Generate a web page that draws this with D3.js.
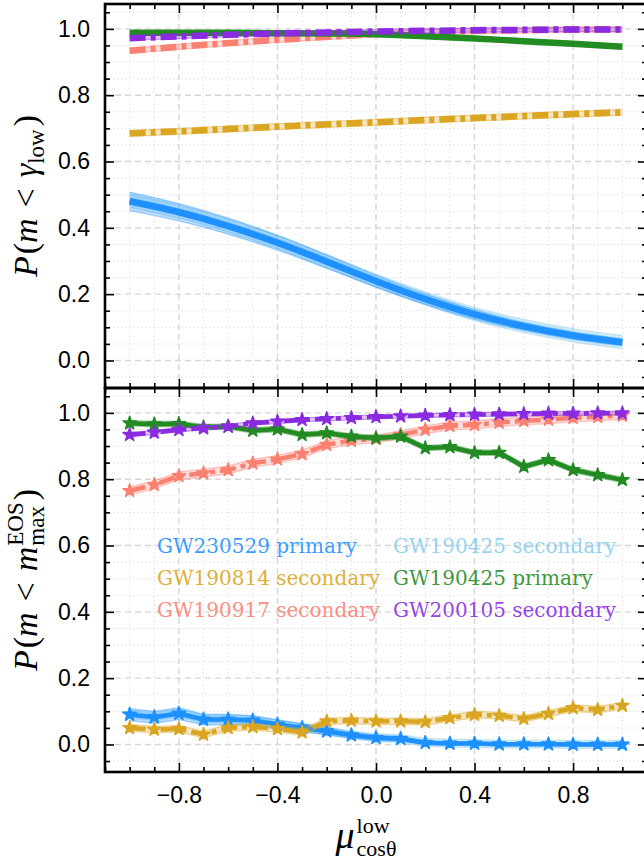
<!DOCTYPE html>
<html>
<head>
<meta charset="utf-8">
<script src="https://cdn.jsdelivr.net/npm/d3@7"></script>
<style>
  body { margin: 0; background: #fff; }
  svg { display: block; }
</style>
</head>
<body>
<div id="chart"></div>
<script>
// sample points along mu_cos(theta)^low
const xTop = [-1.0, -0.8, -0.6, -0.4, -0.2, 0.0, 0.2, 0.4, 0.6, 0.8, 1.0];
const xBottom = [-1.0, -0.9, -0.8, -0.7, -0.6, -0.5, -0.4, -0.3, -0.2, -0.1, 0.0,
                 0.1, 0.2, 0.3, 0.4, 0.5, 0.6, 0.7, 0.8, 0.9, 1.0];

// series (legend is filled column by column)
const names = ["GW230529 primary", "GW190814 secondary", "GW190917 secondary",
               "GW190425 secondary", "GW190425 primary", "GW200105 secondary"];
const colors = ["#1e90ff", "#daa520", "#fa8072", "#87ceeb", "#228b22", "#8a2be2"];
const dashDot = [false, true, true, false, false, true];
// GW190425 secondary sits right under GW230529 primary, so draw it first
const drawOrder = [3, 0, 1, 2, 4, 5];

// top panel: P(m < gamma_low)
const topGW230529p = [0.480, 0.447, 0.405, 0.355, 0.298, 0.239, 0.185, 0.139, 0.103, 0.075, 0.055];
const topGW190814s = [0.685, 0.691, 0.698, 0.705, 0.712, 0.718, 0.725, 0.731, 0.737, 0.743, 0.748];
const topGW190917s = [0.934, 0.946, 0.957, 0.967, 0.976, 0.984, 0.990, 0.994, 0.996, 0.998, 0.999];
const topGW190425s = [0.482, 0.449, 0.407, 0.357, 0.300, 0.241, 0.187, 0.140, 0.104, 0.076, 0.056];
const topGW190425p = [0.988, 0.988, 0.988, 0.987, 0.986, 0.984, 0.978, 0.971, 0.963, 0.955, 0.946];
const topGW200105s = [0.972, 0.977, 0.982, 0.986, 0.989, 0.992, 0.994, 0.996, 0.997, 0.998, 0.998];
// half widths of the shaded bands
const topErrGW230529p = [0.028, 0.026, 0.024, 0.022, 0.020, 0.018, 0.016, 0.014, 0.012, 0.011, 0.010];
const topErr = [null, 0.009, 0.008, 0.020, 0.006, 0.006];

// bottom panel: P(m < m_max^EOS)
const botGW230529p = [0.090, 0.082, 0.093, 0.075, 0.075, 0.072, 0.060, 0.050, 0.040, 0.028, 0.020,
                      0.017, 0.005, 0.003, 0.003, 0.001, 0.001, 0.001, 0.000, 0.000, 0.000];
const botGW190814s = [0.050, 0.045, 0.047, 0.030, 0.050, 0.053, 0.047, 0.037, 0.070, 0.072, 0.070,
                      0.070, 0.068, 0.080, 0.090, 0.087, 0.078, 0.093, 0.110, 0.105, 0.117];
const botGW190917s = [0.765, 0.783, 0.810, 0.818, 0.828, 0.848, 0.860, 0.876, 0.904, 0.916, 0.922,
                      0.934, 0.949, 0.961, 0.964, 0.971, 0.976, 0.980, 0.985, 0.988, 0.992];
const botGW190425s = [0.092, 0.084, 0.095, 0.077, 0.077, 0.074, 0.062, 0.052, 0.041, 0.029, 0.021,
                      0.018, 0.006, 0.004, 0.003, 0.001, 0.001, 0.001, 0.000, 0.000, 0.000];
const botGW190425p = [0.969, 0.966, 0.967, 0.957, 0.959, 0.947, 0.951, 0.934, 0.939, 0.929, 0.924,
                      0.929, 0.894, 0.897, 0.880, 0.880, 0.838, 0.858, 0.828, 0.813, 0.798];
const botGW200105s = [0.934, 0.941, 0.949, 0.954, 0.959, 0.969, 0.974, 0.979, 0.982, 0.985, 0.988,
                      0.990, 0.992, 0.994, 0.995, 0.996, 0.997, 0.998, 0.998, 0.999, 0.999];
const botErrGW230529p = [0.018, 0.018, 0.018, 0.016, 0.016, 0.015, 0.014, 0.012, 0.011, 0.009, 0.008,
                         0.007, 0.005, 0.004, 0.004, 0.003, 0.003, 0.003, 0.003, 0.003, 0.003];
const botErr = [null, 0.010, 0.012, 0.012, 0.008, 0.006];

const xMajor = [-0.8, -0.4, 0.0, 0.4, 0.8];
const yMajor = [0.0, 0.2, 0.4, 0.6, 0.8, 1.0];

const W = 644, H = 865;
const left = 105, right = 647;
const panels = [{ top: 4, bottom: 388 }, { top: 388, bottom: 772 }];
const tickFont = "'Liberation Serif', 'Times New Roman', serif";
const legendFont = "'DejaVu Serif', serif";

const svg = d3.select("#chart").append("svg").attr("width", W).attr("height", H);

const x = d3.scaleLinear().domain([-1.1, 1.1]).range([left, right]);

const xMinor = d3.range(-11, 12).map(i => i / 10).filter(v => !xMajor.some(m => Math.abs(m - v) < 1e-9));
const yMinor = d3.range(-1, 22).map(i => i / 20).filter(v => !yMajor.some(m => Math.abs(m - v) < 1e-9));

function build(sets, errs, errMain, xs) {
  return sets.map((vals, k) => vals.map((v, i) => ({
    x: xs[i], y: v, e: k === 0 ? errMain[i] : errs[k]
  })));
}

const topSeries = build([topGW230529p, topGW190814s, topGW190917s, topGW190425s, topGW190425p, topGW200105s],
                        topErr, topErrGW230529p, xTop);
const botSeries = build([botGW230529p, botGW190814s, botGW190917s, botGW190425s, botGW190425p, botGW200105s],
                        botErr, botErrGW230529p, xBottom);

function drawPanel(p, series, smooth, markers, showXLabels) {
  const y = d3.scaleLinear().domain([-0.083, 1.075]).range([p.bottom, p.top]);
  const g = svg.append("g");
  const clipId = "clip" + p.top;
  svg.append("clipPath").attr("id", clipId)
    .append("rect").attr("x", left).attr("y", p.top).attr("width", right - left).attr("height", p.bottom - p.top);

  // grid
  const grid = g.append("g");
  grid.selectAll("line.xmin").data(xMinor).join("line")
    .attr("x1", d => x(d)).attr("x2", d => x(d)).attr("y1", p.top).attr("y2", p.bottom)
    .attr("stroke", "#e0e0e0").attr("stroke-width", 1).attr("stroke-dasharray", "1.5,2.5");
  grid.selectAll("line.ymin").data(yMinor).join("line")
    .attr("y1", d => y(d)).attr("y2", d => y(d)).attr("x1", left).attr("x2", right)
    .attr("stroke", "#e0e0e0").attr("stroke-width", 1).attr("stroke-dasharray", "1.5,2.5");
  grid.selectAll("line.xmaj").data(xMajor).join("line")
    .attr("x1", d => x(d)).attr("x2", d => x(d)).attr("y1", p.top).attr("y2", p.bottom)
    .attr("stroke", "#d6d6d6").attr("stroke-width", 1.4).attr("stroke-dasharray", "6,4");
  grid.selectAll("line.ymaj").data(yMajor).join("line")
    .attr("y1", d => y(d)).attr("y2", d => y(d)).attr("x1", left).attr("x2", right)
    .attr("stroke", "#d6d6d6").attr("stroke-width", 1.4).attr("stroke-dasharray", "6,4");

  const curve = smooth ? d3.curveMonotoneX : d3.curveLinear;
  const area = d3.area().x(d => x(d.x)).y0(d => y(d.y - d.e)).y1(d => y(d.y + d.e)).curve(curve);
  const upper = d3.line().x(d => x(d.x)).y(d => y(d.y + d.e)).curve(curve);
  const lower = d3.line().x(d => x(d.x)).y(d => y(d.y - d.e)).curve(curve);
  const line = d3.line().x(d => x(d.x)).y(d => y(d.y)).curve(curve);
  const star = d3.symbol().type(d3.symbolStar).size(55);

  const data = g.append("g").attr("clip-path", `url(#${clipId})`);
  drawOrder.forEach(k => {
    const s = series[k];
    const c = colors[k];
    const sg = data.append("g");
    sg.append("path").attr("d", area(s)).attr("fill", c).attr("fill-opacity", k === 3 ? 0.4 : 0.28);
    [upper, lower].forEach(fn => sg.append("path").attr("d", fn(s)).attr("fill", "none")
      .attr("stroke", c).attr("stroke-opacity", 0.4).attr("stroke-width", 1.3));
    sg.append("path").attr("d", line(s)).attr("fill", "none").attr("stroke", c)
      .attr("stroke-width", markers ? 4.5 : 6.5)
      .attr("stroke-dasharray", dashDot[k] ? "16,5,5,5" : null);
    if (markers) {
      sg.selectAll("path.m").data(s).join("path")
        .attr("transform", d => `translate(${x(d.x)},${y(d.y)})`)
        .attr("d", star).attr("fill", c).attr("stroke", c).attr("stroke-width", 1.5)
        .attr("stroke-linejoin", "round");
    }
  });

  // ticks on all four sides, pointing in
  const ax = g.append("g").attr("font-family", tickFont);
  const fmt = d3.format(".1f");
  const styleAxis = sel => {
    sel.select(".domain").remove();
    sel.selectAll(".tick line").attr("stroke", "#000").attr("stroke-width", 1.6);
    sel.selectAll(".tick text").attr("fill", "#000").attr("font-size", 23);
  };
  ax.append("g").attr("transform", `translate(0,${p.bottom})`)
    .call(d3.axisBottom(x).tickValues(xMajor).tickSize(-9).tickPadding(15)
      .tickFormat(showXLabels ? fmt : "")).call(styleAxis);
  ax.append("g").attr("transform", `translate(0,${p.bottom})`)
    .call(d3.axisBottom(x).tickValues(xMinor).tickSize(-5).tickFormat("")).call(styleAxis);
  ax.append("g").attr("transform", `translate(0,${p.top})`)
    .call(d3.axisTop(x).tickValues(xMajor).tickSize(-9).tickFormat("")).call(styleAxis);
  ax.append("g").attr("transform", `translate(0,${p.top})`)
    .call(d3.axisTop(x).tickValues(xMinor).tickSize(-5).tickFormat("")).call(styleAxis);
  ax.append("g").attr("transform", `translate(${left},0)`)
    .call(d3.axisLeft(y).tickValues(yMajor).tickSize(-9).tickPadding(15).tickFormat(fmt)).call(styleAxis);
  ax.append("g").attr("transform", `translate(${left},0)`)
    .call(d3.axisLeft(y).tickValues(yMinor).tickSize(-5).tickFormat("")).call(styleAxis);
  ax.append("g").attr("transform", `translate(${right},0)`)
    .call(d3.axisRight(y).tickValues(yMajor).tickSize(-9).tickFormat("")).call(styleAxis);
  ax.append("g").attr("transform", `translate(${right},0)`)
    .call(d3.axisRight(y).tickValues(yMinor).tickSize(-5).tickFormat("")).call(styleAxis);

  g.append("rect").attr("x", left).attr("y", p.top).attr("width", right - left)
    .attr("height", p.bottom - p.top).attr("fill", "none").attr("stroke", "#000").attr("stroke-width", 2.6);
  return y;
}

drawPanel(panels[0], topSeries, true, false, false);
drawPanel(panels[1], botSeries, false, true, true);

// legend: coloured text only, two columns
const legendX = [157, 393];
const legendY = [553, 585, 617];
svg.append("g").attr("font-family", legendFont).attr("font-size", 20)
  .selectAll("text").data(names).join("text")
  .attr("x", (d, i) => legendX[Math.floor(i / 3)])
  .attr("y", (d, i) => legendY[i % 3])
  .attr("fill", (d, i) => colors[i]).attr("fill-opacity", 0.9)
  .text(d => d);

// math-style labels built from pieces; stacked sup/sub share a start
function mathLabel(g, pieces) {
  let cursor = 0, stackStart = 0, stackW = 0;
  const nodes = [];
  pieces.forEach(pc => {
    const t = g.append("text").attr("font-family", tickFont).attr("font-size", pc.s)
      .attr("font-style", pc.i ? "italic" : "normal").attr("y", pc.dy || 0).text(pc.t);
    const w = t.node().getComputedTextLength();
    const k = pc.kern || 0;
    if (pc.stack === "start") { stackStart = cursor + k; t.attr("x", stackStart); stackW = w; }
    else if (pc.stack === "end") { t.attr("x", stackStart); cursor = stackStart + Math.max(stackW, w); }
    else { t.attr("x", cursor + k); cursor += w + k; }
    nodes.push(t);
  });
  nodes.forEach(t => t.attr("x", +t.attr("x") - cursor / 2));
  return cursor;
}

const yl1 = svg.append("g").attr("transform", "translate(37,196) rotate(-90)");
mathLabel(yl1, [
  { t: "P", s: 34, i: true }, { t: "(", s: 34, kern: 2 }, { t: "m", s: 34, i: true },
  { t: "<", s: 34, kern: 11 }, { t: "γ", s: 34, i: true, kern: 11 },
  { t: "low", s: 23, dy: 7 }, { t: ")", s: 34, kern: 3 }
]);

const yl2 = svg.append("g").attr("transform", "translate(37,580) rotate(-90)");
mathLabel(yl2, [
  { t: "P", s: 34, i: true }, { t: "(", s: 34, kern: 2 }, { t: "m", s: 34, i: true },
  { t: "<", s: 34, kern: 11 }, { t: "m", s: 34, i: true, kern: 11 },
  { t: "EOS", s: 23, dy: -14, stack: "start", kern: 1 }, { t: "max", s: 23, dy: 7, stack: "end" },
  { t: ")", s: 34, kern: 2 }
]);

const xl = svg.append("g").attr("transform", "translate(366,848)");
mathLabel(xl, [
  { t: "μ", s: 38, i: true },
  { t: "low", s: 22, dy: -15, stack: "start", kern: 2 }, { t: "cosθ", s: 22, dy: 8, stack: "end" }
]);
</script>
</body>
</html>
